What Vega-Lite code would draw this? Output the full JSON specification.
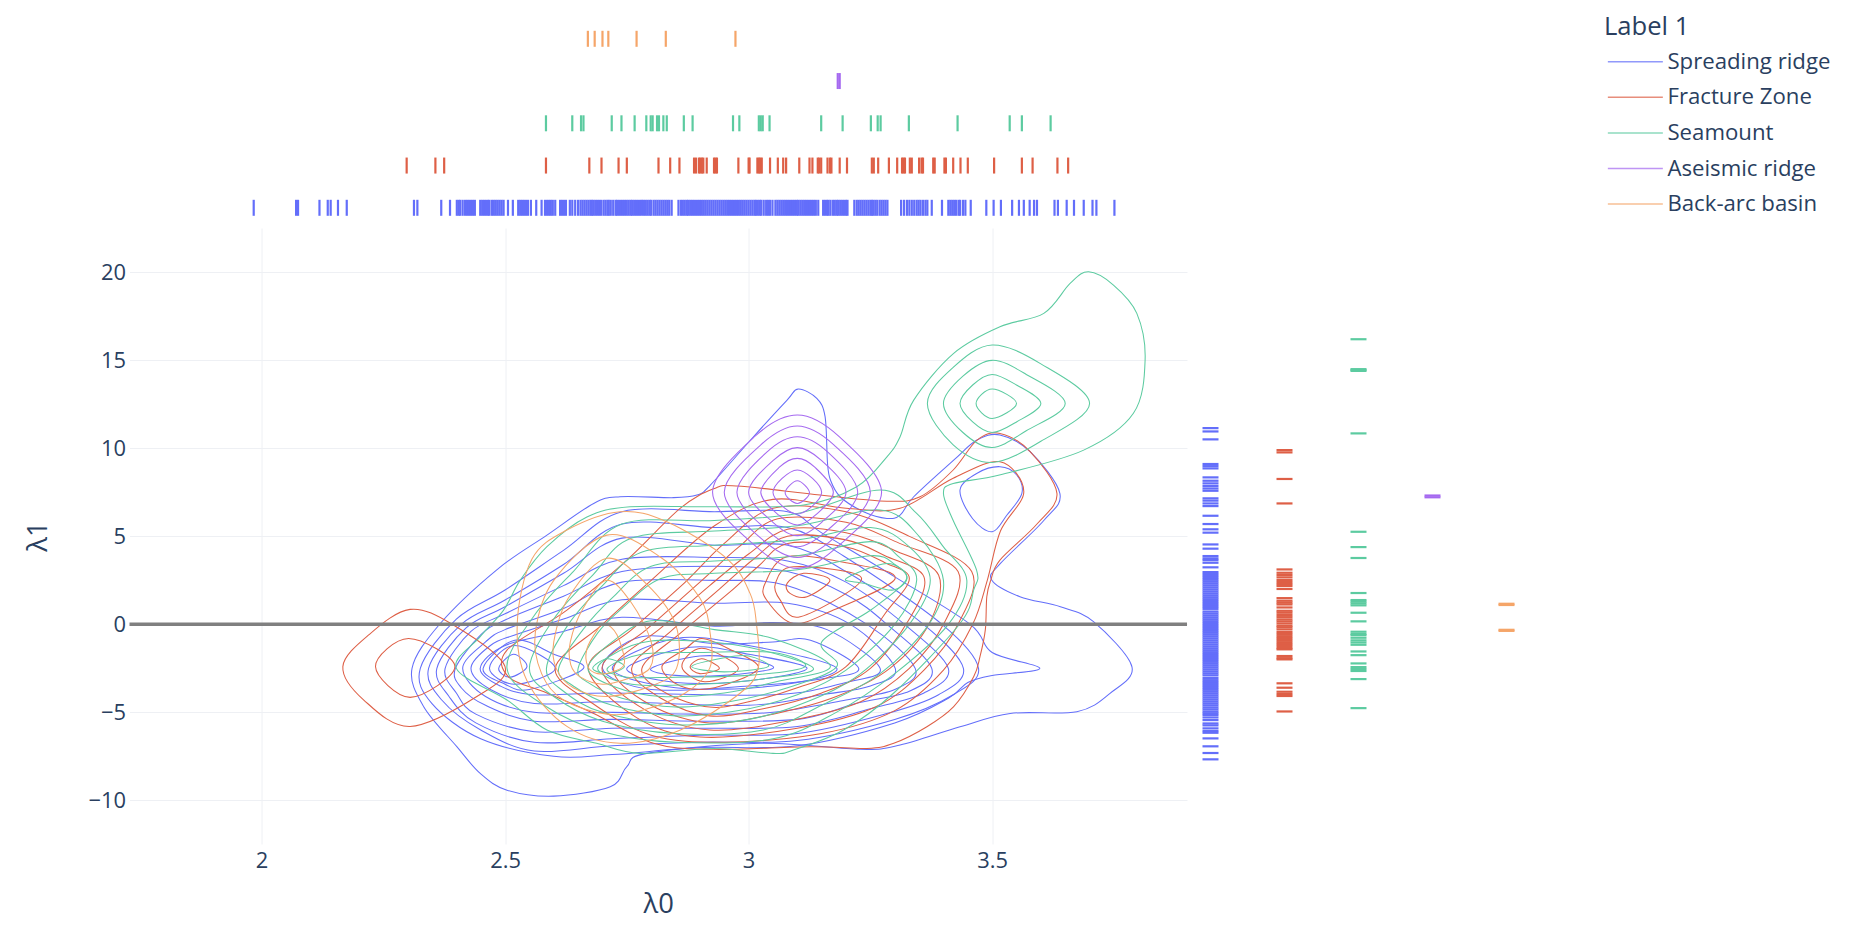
{"$schema":"https://vega.github.io/schema/vega-lite/v6.json","background":"white","padding":{"left":24.5,"top":0,"right":0,"bottom":10},"bounds":"flush","spacing":0,"resolve":{"scale":{"color":"independent"},"legend":{"color":"independent"}},
"config":{"view":{"stroke":null},"font":"Open Sans","axis":{"labelFont":"Open Sans","titleFont":"Open Sans","labelColor":"#2a3f5f","titleColor":"#2a3f5f","labelFontSize":21.9,"titleFontSize":27.4,"titleFontWeight":"normal","gridColor":"#EEF0F4","gridWidth":1,"domain":false,"ticks":false},"legend":{"labelFont":"Open Sans","titleFont":"Open Sans"}},
"datasets":{
"rx":[
{"t":"Back-arc basin","v":2.670},{"t":"Back-arc basin","v":2.684},{"t":"Back-arc basin","v":2.700},{"t":"Back-arc basin","v":2.712},{"t":"Back-arc basin","v":2.770},{"t":"Back-arc basin","v":2.830},{"t":"Back-arc basin","v":2.973},
{"t":"Aseismic ridge","v":3.183},{"t":"Aseismic ridge","v":3.187},
{"t":"Seamount","v":2.584},{"t":"Seamount","v":2.638},{"t":"Seamount","v":2.656},{"t":"Seamount","v":2.661},{"t":"Seamount","v":2.719},{"t":"Seamount","v":2.739},{"t":"Seamount","v":2.766},{"t":"Seamount","v":2.790},{"t":"Seamount","v":2.799},{"t":"Seamount","v":2.803},{"t":"Seamount","v":2.812},{"t":"Seamount","v":2.816},{"t":"Seamount","v":2.825},{"t":"Seamount","v":2.832},{"t":"Seamount","v":2.867},{"t":"Seamount","v":2.885},{"t":"Seamount","v":2.968},{"t":"Seamount","v":2.981},{"t":"Seamount","v":3.021},{"t":"Seamount","v":3.025},{"t":"Seamount","v":3.029},{"t":"Seamount","v":3.043},{"t":"Seamount","v":3.149},{"t":"Seamount","v":3.193},{"t":"Seamount","v":3.251},{"t":"Seamount","v":3.265},{"t":"Seamount","v":3.271},{"t":"Seamount","v":3.329},{"t":"Seamount","v":3.429},{"t":"Seamount","v":3.536},{"t":"Seamount","v":3.561},{"t":"Seamount","v":3.62},
{"t":"Fracture Zone","v":2.298},{"t":"Fracture Zone","v":2.357},{"t":"Fracture Zone","v":2.375},{"t":"Fracture Zone","v":2.584},{"t":"Fracture Zone","v":2.673},{"t":"Fracture Zone","v":2.698},{"t":"Fracture Zone","v":2.733},{"t":"Fracture Zone","v":2.750},{"t":"Fracture Zone","v":2.815},{"t":"Fracture Zone","v":2.839},{"t":"Fracture Zone","v":2.858},{"t":"Fracture Zone","v":2.888},{"t":"Fracture Zone","v":2.892},{"t":"Fracture Zone","v":2.898},{"t":"Fracture Zone","v":2.901},{"t":"Fracture Zone","v":2.904},{"t":"Fracture Zone","v":2.907},{"t":"Fracture Zone","v":2.914},{"t":"Fracture Zone","v":2.929},{"t":"Fracture Zone","v":2.932},{"t":"Fracture Zone","v":2.935},{"t":"Fracture Zone","v":2.979},{"t":"Fracture Zone","v":3.000},{"t":"Fracture Zone","v":3.002},{"t":"Fracture Zone","v":3.018},{"t":"Fracture Zone","v":3.021},{"t":"Fracture Zone","v":3.024},{"t":"Fracture Zone","v":3.027},{"t":"Fracture Zone","v":3.044},{"t":"Fracture Zone","v":3.060},{"t":"Fracture Zone","v":3.071},{"t":"Fracture Zone","v":3.077},{"t":"Fracture Zone","v":3.104},{"t":"Fracture Zone","v":3.125},{"t":"Fracture Zone","v":3.131},{"t":"Fracture Zone","v":3.142},{"t":"Fracture Zone","v":3.145},{"t":"Fracture Zone","v":3.149},{"t":"Fracture Zone","v":3.162},{"t":"Fracture Zone","v":3.167},{"t":"Fracture Zone","v":3.170},{"t":"Fracture Zone","v":3.187},{"t":"Fracture Zone","v":3.202},{"t":"Fracture Zone","v":3.253},{"t":"Fracture Zone","v":3.257},{"t":"Fracture Zone","v":3.266},{"t":"Fracture Zone","v":3.288},{"t":"Fracture Zone","v":3.305},{"t":"Fracture Zone","v":3.315},{"t":"Fracture Zone","v":3.318},{"t":"Fracture Zone","v":3.321},{"t":"Fracture Zone","v":3.331},{"t":"Fracture Zone","v":3.335},{"t":"Fracture Zone","v":3.350},{"t":"Fracture Zone","v":3.355},{"t":"Fracture Zone","v":3.358},{"t":"Fracture Zone","v":3.379},{"t":"Fracture Zone","v":3.382},{"t":"Fracture Zone","v":3.402},{"t":"Fracture Zone","v":3.405},{"t":"Fracture Zone","v":3.42},{"t":"Fracture Zone","v":3.435},{"t":"Fracture Zone","v":3.45},{"t":"Fracture Zone","v":3.504},{"t":"Fracture Zone","v":3.561},{"t":"Fracture Zone","v":3.583},{"t":"Fracture Zone","v":3.634},{"t":"Fracture Zone","v":3.656},
{"t":"Spreading ridge","v":1.984},{"t":"Spreading ridge","v":2.071},{"t":"Spreading ridge","v":2.075},{"t":"Spreading ridge","v":2.119},{"t":"Spreading ridge","v":2.136},{"t":"Spreading ridge","v":2.142},{"t":"Spreading ridge","v":2.157},{"t":"Spreading ridge","v":2.175},{"t":"Spreading ridge","v":2.313},{"t":"Spreading ridge","v":2.320},{"t":"Spreading ridge","v":2.369},{"t":"Spreading ridge","v":2.387},{"t":"Spreading ridge","v":2.401},{"t":"Spreading ridge","v":2.405},{"t":"Spreading ridge","v":2.408},{"t":"Spreading ridge","v":2.413},{"t":"Spreading ridge","v":2.418},{"t":"Spreading ridge","v":2.422},{"t":"Spreading ridge","v":2.426},{"t":"Spreading ridge","v":2.430},{"t":"Spreading ridge","v":2.434},{"t":"Spreading ridge","v":2.438},{"t":"Spreading ridge","v":2.449},{"t":"Spreading ridge","v":2.453},{"t":"Spreading ridge","v":2.457},{"t":"Spreading ridge","v":2.461},{"t":"Spreading ridge","v":2.465},{"t":"Spreading ridge","v":2.468},{"t":"Spreading ridge","v":2.473},{"t":"Spreading ridge","v":2.477},{"t":"Spreading ridge","v":2.481},{"t":"Spreading ridge","v":2.485},{"t":"Spreading ridge","v":2.489},{"t":"Spreading ridge","v":2.493},{"t":"Spreading ridge","v":2.497},{"t":"Spreading ridge","v":2.506},{"t":"Spreading ridge","v":2.516},{"t":"Spreading ridge","v":2.527},{"t":"Spreading ridge","v":2.531},{"t":"Spreading ridge","v":2.535},{"t":"Spreading ridge","v":2.539},{"t":"Spreading ridge","v":2.543},{"t":"Spreading ridge","v":2.547},{"t":"Spreading ridge","v":2.553},{"t":"Spreading ridge","v":2.564},{"t":"Spreading ridge","v":2.575},{"t":"Spreading ridge","v":2.582},{"t":"Spreading ridge","v":2.586},{"t":"Spreading ridge","v":2.590},{"t":"Spreading ridge","v":2.594},{"t":"Spreading ridge","v":2.598},{"t":"Spreading ridge","v":2.603},{"t":"Spreading ridge","v":2.613},{"t":"Spreading ridge","v":2.617},{"t":"Spreading ridge","v":2.621},{"t":"Spreading ridge","v":2.625},{"t":"Spreading ridge","v":2.633},{"t":"Spreading ridge","v":2.638},{"t":"Spreading ridge","v":2.644},{"t":"Spreading ridge","v":2.650},{"t":"Spreading ridge","v":2.655},{"t":"Spreading ridge","v":2.659},{"t":"Spreading ridge","v":2.663},{"t":"Spreading ridge","v":2.667},{"t":"Spreading ridge","v":2.671},{"t":"Spreading ridge","v":2.675},{"t":"Spreading ridge","v":2.678},{"t":"Spreading ridge","v":2.681},{"t":"Spreading ridge","v":2.685},{"t":"Spreading ridge","v":2.689},{"t":"Spreading ridge","v":2.693},{"t":"Spreading ridge","v":2.697},{"t":"Spreading ridge","v":2.702},{"t":"Spreading ridge","v":2.706},{"t":"Spreading ridge","v":2.710},{"t":"Spreading ridge","v":2.713},{"t":"Spreading ridge","v":2.717},{"t":"Spreading ridge","v":2.722},{"t":"Spreading ridge","v":2.727},{"t":"Spreading ridge","v":2.730},{"t":"Spreading ridge","v":2.734},{"t":"Spreading ridge","v":2.738},{"t":"Spreading ridge","v":2.742},{"t":"Spreading ridge","v":2.746},{"t":"Spreading ridge","v":2.750},{"t":"Spreading ridge","v":2.754},{"t":"Spreading ridge","v":2.758},{"t":"Spreading ridge","v":2.761},{"t":"Spreading ridge","v":2.765},{"t":"Spreading ridge","v":2.769},{"t":"Spreading ridge","v":2.773},{"t":"Spreading ridge","v":2.777},{"t":"Spreading ridge","v":2.781},{"t":"Spreading ridge","v":2.785},{"t":"Spreading ridge","v":2.789},{"t":"Spreading ridge","v":2.793},{"t":"Spreading ridge","v":2.797},{"t":"Spreading ridge","v":2.800},{"t":"Spreading ridge","v":2.805},{"t":"Spreading ridge","v":2.809},{"t":"Spreading ridge","v":2.813},{"t":"Spreading ridge","v":2.817},{"t":"Spreading ridge","v":2.821},{"t":"Spreading ridge","v":2.825},{"t":"Spreading ridge","v":2.829},{"t":"Spreading ridge","v":2.833},{"t":"Spreading ridge","v":2.837},{"t":"Spreading ridge","v":2.842},{"t":"Spreading ridge","v":2.856},{"t":"Spreading ridge","v":2.861},{"t":"Spreading ridge","v":2.865},{"t":"Spreading ridge","v":2.869},{"t":"Spreading ridge","v":2.873},{"t":"Spreading ridge","v":2.876},{"t":"Spreading ridge","v":2.880},{"t":"Spreading ridge","v":2.884},{"t":"Spreading ridge","v":2.888},{"t":"Spreading ridge","v":2.892},{"t":"Spreading ridge","v":2.896},{"t":"Spreading ridge","v":2.900},{"t":"Spreading ridge","v":2.904},{"t":"Spreading ridge","v":2.908},{"t":"Spreading ridge","v":2.912},{"t":"Spreading ridge","v":2.916},{"t":"Spreading ridge","v":2.920},{"t":"Spreading ridge","v":2.924},{"t":"Spreading ridge","v":2.928},{"t":"Spreading ridge","v":2.932},{"t":"Spreading ridge","v":2.936},{"t":"Spreading ridge","v":2.940},{"t":"Spreading ridge","v":2.944},{"t":"Spreading ridge","v":2.948},{"t":"Spreading ridge","v":2.952},{"t":"Spreading ridge","v":2.956},{"t":"Spreading ridge","v":2.960},{"t":"Spreading ridge","v":2.964},{"t":"Spreading ridge","v":2.968},{"t":"Spreading ridge","v":2.972},{"t":"Spreading ridge","v":2.976},{"t":"Spreading ridge","v":2.980},{"t":"Spreading ridge","v":2.984},{"t":"Spreading ridge","v":2.988},{"t":"Spreading ridge","v":2.992},{"t":"Spreading ridge","v":2.996},{"t":"Spreading ridge","v":3.000},{"t":"Spreading ridge","v":3.004},{"t":"Spreading ridge","v":3.008},{"t":"Spreading ridge","v":3.012},{"t":"Spreading ridge","v":3.015},{"t":"Spreading ridge","v":3.019},{"t":"Spreading ridge","v":3.023},{"t":"Spreading ridge","v":3.026},{"t":"Spreading ridge","v":3.031},{"t":"Spreading ridge","v":3.036},{"t":"Spreading ridge","v":3.040},{"t":"Spreading ridge","v":3.044},{"t":"Spreading ridge","v":3.049},{"t":"Spreading ridge","v":3.055},{"t":"Spreading ridge","v":3.059},{"t":"Spreading ridge","v":3.063},{"t":"Spreading ridge","v":3.067},{"t":"Spreading ridge","v":3.071},{"t":"Spreading ridge","v":3.075},{"t":"Spreading ridge","v":3.079},{"t":"Spreading ridge","v":3.083},{"t":"Spreading ridge","v":3.087},{"t":"Spreading ridge","v":3.091},{"t":"Spreading ridge","v":3.095},{"t":"Spreading ridge","v":3.099},{"t":"Spreading ridge","v":3.102},{"t":"Spreading ridge","v":3.106},{"t":"Spreading ridge","v":3.110},{"t":"Spreading ridge","v":3.114},{"t":"Spreading ridge","v":3.118},{"t":"Spreading ridge","v":3.122},{"t":"Spreading ridge","v":3.126},{"t":"Spreading ridge","v":3.130},{"t":"Spreading ridge","v":3.134},{"t":"Spreading ridge","v":3.138},{"t":"Spreading ridge","v":3.143},{"t":"Spreading ridge","v":3.153},{"t":"Spreading ridge","v":3.157},{"t":"Spreading ridge","v":3.161},{"t":"Spreading ridge","v":3.164},{"t":"Spreading ridge","v":3.168},{"t":"Spreading ridge","v":3.173},{"t":"Spreading ridge","v":3.177},{"t":"Spreading ridge","v":3.181},{"t":"Spreading ridge","v":3.184},{"t":"Spreading ridge","v":3.188},{"t":"Spreading ridge","v":3.192},{"t":"Spreading ridge","v":3.196},{"t":"Spreading ridge","v":3.200},{"t":"Spreading ridge","v":3.203},{"t":"Spreading ridge","v":3.217},{"t":"Spreading ridge","v":3.222},{"t":"Spreading ridge","v":3.226},{"t":"Spreading ridge","v":3.230},{"t":"Spreading ridge","v":3.234},{"t":"Spreading ridge","v":3.238},{"t":"Spreading ridge","v":3.242},{"t":"Spreading ridge","v":3.246},{"t":"Spreading ridge","v":3.250},{"t":"Spreading ridge","v":3.253},{"t":"Spreading ridge","v":3.256},{"t":"Spreading ridge","v":3.260},{"t":"Spreading ridge","v":3.264},{"t":"Spreading ridge","v":3.269},{"t":"Spreading ridge","v":3.273},{"t":"Spreading ridge","v":3.277},{"t":"Spreading ridge","v":3.281},{"t":"Spreading ridge","v":3.285},{"t":"Spreading ridge","v":3.313},{"t":"Spreading ridge","v":3.319},{"t":"Spreading ridge","v":3.325},{"t":"Spreading ridge","v":3.330},{"t":"Spreading ridge","v":3.335},{"t":"Spreading ridge","v":3.340},{"t":"Spreading ridge","v":3.345},{"t":"Spreading ridge","v":3.349},{"t":"Spreading ridge","v":3.353},{"t":"Spreading ridge","v":3.358},{"t":"Spreading ridge","v":3.363},{"t":"Spreading ridge","v":3.367},{"t":"Spreading ridge","v":3.376},{"t":"Spreading ridge","v":3.397},{"t":"Spreading ridge","v":3.410},{"t":"Spreading ridge","v":3.414},{"t":"Spreading ridge","v":3.418},{"t":"Spreading ridge","v":3.422},{"t":"Spreading ridge","v":3.426},{"t":"Spreading ridge","v":3.431},{"t":"Spreading ridge","v":3.434},{"t":"Spreading ridge","v":3.440},{"t":"Spreading ridge","v":3.445},{"t":"Spreading ridge","v":3.456},{"t":"Spreading ridge","v":3.488},{"t":"Spreading ridge","v":3.503},{"t":"Spreading ridge","v":3.518},{"t":"Spreading ridge","v":3.541},{"t":"Spreading ridge","v":3.555},{"t":"Spreading ridge","v":3.565},{"t":"Spreading ridge","v":3.577},{"t":"Spreading ridge","v":3.586},{"t":"Spreading ridge","v":3.592},{"t":"Spreading ridge","v":3.628},{"t":"Spreading ridge","v":3.635},{"t":"Spreading ridge","v":3.653},{"t":"Spreading ridge","v":3.668},{"t":"Spreading ridge","v":3.688},{"t":"Spreading ridge","v":3.706},{"t":"Spreading ridge","v":3.714},{"t":"Spreading ridge","v":3.751}
],
"ry":[
{"t":"Back-arc basin","v":1.17},{"t":"Back-arc basin","v":1.10},{"t":"Back-arc basin","v":-0.31},{"t":"Back-arc basin","v":-0.37},
{"t":"Aseismic ridge","v":7.22},{"t":"Aseismic ridge","v":7.32},
{"t":"Seamount","v":16.2},{"t":"Seamount","v":14.5},{"t":"Seamount","v":14.45},{"t":"Seamount","v":14.4},{"t":"Seamount","v":10.85},{"t":"Seamount","v":5.26},{"t":"Seamount","v":4.39},{"t":"Seamount","v":3.77},{"t":"Seamount","v":1.78},{"t":"Seamount","v":1.38},{"t":"Seamount","v":1.29},{"t":"Seamount","v":1.19},{"t":"Seamount","v":1.08},{"t":"Seamount","v":0.66},{"t":"Seamount","v":0.17},{"t":"Seamount","v":-0.42},{"t":"Seamount","v":-0.55},{"t":"Seamount","v":-0.61},{"t":"Seamount","v":-0.76},{"t":"Seamount","v":-0.91},{"t":"Seamount","v":-1.03},{"t":"Seamount","v":-1.16},{"t":"Seamount","v":-1.54},{"t":"Seamount","v":-1.75},{"t":"Seamount","v":-2.22},{"t":"Seamount","v":-2.43},{"t":"Seamount","v":-2.54},{"t":"Seamount","v":-2.65},{"t":"Seamount","v":-3.11},{"t":"Seamount","v":-4.76},
{"t":"Fracture Zone","v":9.90},{"t":"Fracture Zone","v":9.77},{"t":"Fracture Zone","v":8.26},{"t":"Fracture Zone","v":6.87},{"t":"Fracture Zone","v":3.12},{"t":"Fracture Zone","v":2.93},{"t":"Fracture Zone","v":2.80},{"t":"Fracture Zone","v":2.67},{"t":"Fracture Zone","v":2.52},{"t":"Fracture Zone","v":2.40},{"t":"Fracture Zone","v":2.29},{"t":"Fracture Zone","v":2.18},{"t":"Fracture Zone","v":2.01},{"t":"Fracture Zone","v":1.49},{"t":"Fracture Zone","v":1.34},{"t":"Fracture Zone","v":1.23},{"t":"Fracture Zone","v":1.13},{"t":"Fracture Zone","v":0.96},{"t":"Fracture Zone","v":0.77},{"t":"Fracture Zone","v":0.66},{"t":"Fracture Zone","v":0.53},{"t":"Fracture Zone","v":0.41},{"t":"Fracture Zone","v":0.28},{"t":"Fracture Zone","v":0.17},{"t":"Fracture Zone","v":0.05},{"t":"Fracture Zone","v":-0.08},{"t":"Fracture Zone","v":-0.17},{"t":"Fracture Zone","v":-0.29},{"t":"Fracture Zone","v":-0.44},{"t":"Fracture Zone","v":-0.55},{"t":"Fracture Zone","v":-0.67},{"t":"Fracture Zone","v":-0.78},{"t":"Fracture Zone","v":-0.89},{"t":"Fracture Zone","v":-1.01},{"t":"Fracture Zone","v":-1.12},{"t":"Fracture Zone","v":-1.23},{"t":"Fracture Zone","v":-1.35},{"t":"Fracture Zone","v":-1.42},{"t":"Fracture Zone","v":-1.80},{"t":"Fracture Zone","v":-1.92},{"t":"Fracture Zone","v":-1.99},{"t":"Fracture Zone","v":-3.35},{"t":"Fracture Zone","v":-3.60},{"t":"Fracture Zone","v":-3.83},{"t":"Fracture Zone","v":-3.96},{"t":"Fracture Zone","v":-4.07},{"t":"Fracture Zone","v":-4.95},
{"t":"Spreading ridge","v":11.15},{"t":"Spreading ridge","v":10.96},{"t":"Spreading ridge","v":10.51},{"t":"Spreading ridge","v":9.11},{"t":"Spreading ridge","v":8.99},{"t":"Spreading ridge","v":8.86},{"t":"Spreading ridge","v":8.35},{"t":"Spreading ridge","v":8.16},{"t":"Spreading ridge","v":8.01},{"t":"Spreading ridge","v":7.86},{"t":"Spreading ridge","v":7.72},{"t":"Spreading ridge","v":7.59},{"t":"Spreading ridge","v":7.16},{"t":"Spreading ridge","v":7.03},{"t":"Spreading ridge","v":6.87},{"t":"Spreading ridge","v":6.72},{"t":"Spreading ridge","v":6.17},{"t":"Spreading ridge","v":5.70},{"t":"Spreading ridge","v":5.40},{"t":"Spreading ridge","v":5.21},{"t":"Spreading ridge","v":4.54},{"t":"Spreading ridge","v":4.30},{"t":"Spreading ridge","v":3.88},{"t":"Spreading ridge","v":3.75},{"t":"Spreading ridge","v":3.65},{"t":"Spreading ridge","v":3.50},{"t":"Spreading ridge","v":3.24},{"t":"Spreading ridge","v":2.97},{"t":"Spreading ridge","v":2.86},{"t":"Spreading ridge","v":2.75},{"t":"Spreading ridge","v":2.64},{"t":"Spreading ridge","v":2.53},{"t":"Spreading ridge","v":2.42},{"t":"Spreading ridge","v":2.31},{"t":"Spreading ridge","v":2.20},{"t":"Spreading ridge","v":2.09},{"t":"Spreading ridge","v":1.98},{"t":"Spreading ridge","v":1.87},{"t":"Spreading ridge","v":1.76},{"t":"Spreading ridge","v":1.65},{"t":"Spreading ridge","v":1.54},{"t":"Spreading ridge","v":1.43},{"t":"Spreading ridge","v":1.32},{"t":"Spreading ridge","v":1.21},{"t":"Spreading ridge","v":1.10},{"t":"Spreading ridge","v":0.99},{"t":"Spreading ridge","v":0.88},{"t":"Spreading ridge","v":0.73},{"t":"Spreading ridge","v":0.62},{"t":"Spreading ridge","v":0.51},{"t":"Spreading ridge","v":0.40},{"t":"Spreading ridge","v":0.29},{"t":"Spreading ridge","v":0.18},{"t":"Spreading ridge","v":0.07},{"t":"Spreading ridge","v":-0.04},{"t":"Spreading ridge","v":-0.15},{"t":"Spreading ridge","v":-0.26},{"t":"Spreading ridge","v":-0.37},{"t":"Spreading ridge","v":-0.48},{"t":"Spreading ridge","v":-0.59},{"t":"Spreading ridge","v":-0.70},{"t":"Spreading ridge","v":-0.81},{"t":"Spreading ridge","v":-0.92},{"t":"Spreading ridge","v":-1.03},{"t":"Spreading ridge","v":-1.14},{"t":"Spreading ridge","v":-1.25},{"t":"Spreading ridge","v":-1.36},{"t":"Spreading ridge","v":-1.47},{"t":"Spreading ridge","v":-1.58},{"t":"Spreading ridge","v":-1.69},{"t":"Spreading ridge","v":-1.80},{"t":"Spreading ridge","v":-1.91},{"t":"Spreading ridge","v":-2.02},{"t":"Spreading ridge","v":-2.13},{"t":"Spreading ridge","v":-2.24},{"t":"Spreading ridge","v":-2.35},{"t":"Spreading ridge","v":-2.46},{"t":"Spreading ridge","v":-2.57},{"t":"Spreading ridge","v":-2.68},{"t":"Spreading ridge","v":-2.79},{"t":"Spreading ridge","v":-2.90},{"t":"Spreading ridge","v":-3.05},{"t":"Spreading ridge","v":-3.17},{"t":"Spreading ridge","v":-3.28},{"t":"Spreading ridge","v":-3.39},{"t":"Spreading ridge","v":-3.50},{"t":"Spreading ridge","v":-3.61},{"t":"Spreading ridge","v":-3.72},{"t":"Spreading ridge","v":-3.83},{"t":"Spreading ridge","v":-3.94},{"t":"Spreading ridge","v":-4.05},{"t":"Spreading ridge","v":-4.16},{"t":"Spreading ridge","v":-4.27},{"t":"Spreading ridge","v":-4.38},{"t":"Spreading ridge","v":-4.49},{"t":"Spreading ridge","v":-4.60},{"t":"Spreading ridge","v":-4.72},{"t":"Spreading ridge","v":-4.83},{"t":"Spreading ridge","v":-4.95},{"t":"Spreading ridge","v":-5.05},{"t":"Spreading ridge","v":-5.15},{"t":"Spreading ridge","v":-5.29},{"t":"Spreading ridge","v":-5.44},{"t":"Spreading ridge","v":-5.63},{"t":"Spreading ridge","v":-5.74},{"t":"Spreading ridge","v":-5.91},{"t":"Spreading ridge","v":-6.06},{"t":"Spreading ridge","v":-6.16},{"t":"Spreading ridge","v":-6.48},{"t":"Spreading ridge","v":-6.93},{"t":"Spreading ridge","v":-7.31},{"t":"Spreading ridge","v":-7.67}
],
"contours":[
{"t":"Spreading ridge","c":"B0","x":2.309,"y":-2.5},{"t":"Spreading ridge","c":"B0","x":2.367,"y":0.05},{"t":"Spreading ridge","c":"B0","x":2.483,"y":3.1},{"t":"Spreading ridge","c":"B0","x":2.586,"y":5.07},{"t":"Spreading ridge","c":"B0","x":2.682,"y":6.87},{"t":"Spreading ridge","c":"B0","x":2.736,"y":7.25},{"t":"Spreading ridge","c":"B0","x":2.846,"y":7.2},{"t":"Spreading ridge","c":"B0","x":2.894,"y":7.35},{"t":"Spreading ridge","c":"B0","x":2.921,"y":7.9},{"t":"Spreading ridge","c":"B0","x":3.01,"y":10.66},{"t":"Spreading ridge","c":"B0","x":3.079,"y":12.74},{"t":"Spreading ridge","c":"B0","x":3.102,"y":13.37},{"t":"Spreading ridge","c":"B0","x":3.14,"y":12.84},{"t":"Spreading ridge","c":"B0","x":3.157,"y":11.8},{"t":"Spreading ridge","c":"B0","x":3.162,"y":9.15},{"t":"Spreading ridge","c":"B0","x":3.168,"y":8.2},{"t":"Spreading ridge","c":"B0","x":3.188,"y":7.25},{"t":"Spreading ridge","c":"B0","x":3.236,"y":6.4},{"t":"Spreading ridge","c":"B0","x":3.284,"y":6.02},{"t":"Spreading ridge","c":"B0","x":3.311,"y":6.21},{"t":"Spreading ridge","c":"B0","x":3.339,"y":7.25},{"t":"Spreading ridge","c":"B0","x":3.421,"y":9.33},{"t":"Spreading ridge","c":"B0","x":3.469,"y":10.47},{"t":"Spreading ridge","c":"B0","x":3.516,"y":10.76},{"t":"Spreading ridge","c":"B0","x":3.578,"y":9.81},{"t":"Spreading ridge","c":"B0","x":3.639,"y":7.44},{"t":"Spreading ridge","c":"B0","x":3.606,"y":5.9},{"t":"Spreading ridge","c":"B0","x":3.517,"y":3.46},{"t":"Spreading ridge","c":"B0","x":3.499,"y":2.52},{"t":"Spreading ridge","c":"B0","x":3.557,"y":1.57},{"t":"Spreading ridge","c":"B0","x":3.64,"y":1.0},{"t":"Spreading ridge","c":"B0","x":3.708,"y":0.15},{"t":"Spreading ridge","c":"B0","x":3.787,"y":-2.41},{"t":"Spreading ridge","c":"B0","x":3.742,"y":-3.92},{"t":"Spreading ridge","c":"B0","x":3.674,"y":-4.96},{"t":"Spreading ridge","c":"B0","x":3.537,"y":-5.06},{"t":"Spreading ridge","c":"B0","x":3.434,"y":-5.82},{"t":"Spreading ridge","c":"B0","x":3.311,"y":-6.86},{"t":"Spreading ridge","c":"B0","x":3.229,"y":-7.1},{"t":"Spreading ridge","c":"B0","x":3.024,"y":-6.76},{"t":"Spreading ridge","c":"B0","x":2.791,"y":-7.33},{"t":"Spreading ridge","c":"B0","x":2.75,"y":-8.09},{"t":"Spreading ridge","c":"B0","x":2.716,"y":-9.23},{"t":"Spreading ridge","c":"B0","x":2.6,"y":-9.76},{"t":"Spreading ridge","c":"B0","x":2.504,"y":-9.42},{"t":"Spreading ridge","c":"B0","x":2.449,"y":-8.47},{"t":"Spreading ridge","c":"B0","x":2.401,"y":-6.95},{"t":"Spreading ridge","c":"B0","x":2.333,"y":-4.68},
{"t":"Spreading ridge","c":"BI","x":3.434,"y":7.63},{"t":"Spreading ridge","c":"BI","x":3.47,"y":8.6},{"t":"Spreading ridge","c":"BI","x":3.516,"y":8.96},{"t":"Spreading ridge","c":"BI","x":3.55,"y":8.5},{"t":"Spreading ridge","c":"BI","x":3.561,"y":7.44},{"t":"Spreading ridge","c":"BI","x":3.53,"y":6.2},{"t":"Spreading ridge","c":"BI","x":3.5,"y":5.26},{"t":"Spreading ridge","c":"BI","x":3.46,"y":6},
{"t":"Spreading ridge","c":"B1","x":2.326,"y":-2.5},{"t":"Spreading ridge","c":"B1","x":2.4,"y":0.3},{"t":"Spreading ridge","c":"B1","x":2.5,"y":1.95},{"t":"Spreading ridge","c":"B1","x":2.62,"y":4.2},{"t":"Spreading ridge","c":"B1","x":2.74,"y":6.4},{"t":"Spreading ridge","c":"B1","x":2.93,"y":6.4},{"t":"Spreading ridge","c":"B1","x":3.08,"y":6.4},{"t":"Spreading ridge","c":"B1","x":3.15,"y":5.2},{"t":"Spreading ridge","c":"B1","x":3.3,"y":2.7},{"t":"Spreading ridge","c":"B1","x":3.455,"y":0},{"t":"Spreading ridge","c":"B1","x":3.5,"y":-1.6},{"t":"Spreading ridge","c":"B1","x":3.598,"y":-2.5},{"t":"Spreading ridge","c":"B1","x":3.5,"y":-2.9},{"t":"Spreading ridge","c":"B1","x":3.45,"y":-3.3},{"t":"Spreading ridge","c":"B1","x":3.41,"y":-4.2},{"t":"Spreading ridge","c":"B1","x":3.3,"y":-5.6},{"t":"Spreading ridge","c":"B1","x":3.1,"y":-6.9},{"t":"Spreading ridge","c":"B1","x":2.9,"y":-7},{"t":"Spreading ridge","c":"B1","x":2.72,"y":-7.4},{"t":"Spreading ridge","c":"B1","x":2.6,"y":-7.5},{"t":"Spreading ridge","c":"B1","x":2.45,"y":-6.5},{"t":"Spreading ridge","c":"B1","x":2.35,"y":-4.5},
{"t":"Spreading ridge","c":"B2","x":2.343,"y":-2.5},{"t":"Spreading ridge","c":"B2","x":2.41,"y":0},{"t":"Spreading ridge","c":"B2","x":2.5,"y":1.38},{"t":"Spreading ridge","c":"B2","x":2.62,"y":3.4},{"t":"Spreading ridge","c":"B2","x":2.74,"y":5.7},{"t":"Spreading ridge","c":"B2","x":2.93,"y":5.5},{"t":"Spreading ridge","c":"B2","x":3.08,"y":5.5},{"t":"Spreading ridge","c":"B2","x":3.2,"y":3.8},{"t":"Spreading ridge","c":"B2","x":3.397,"y":0},{"t":"Spreading ridge","c":"B2","x":3.472,"y":-2.5},{"t":"Spreading ridge","c":"B2","x":3.42,"y":-4},{"t":"Spreading ridge","c":"B2","x":3.3,"y":-5.4},{"t":"Spreading ridge","c":"B2","x":3.1,"y":-6.6},{"t":"Spreading ridge","c":"B2","x":2.9,"y":-6.7},{"t":"Spreading ridge","c":"B2","x":2.72,"y":-6.9},{"t":"Spreading ridge","c":"B2","x":2.56,"y":-7.2},{"t":"Spreading ridge","c":"B2","x":2.45,"y":-6},{"t":"Spreading ridge","c":"B2","x":2.37,"y":-4.3},
{"t":"Spreading ridge","c":"B3","x":2.36,"y":-2.5},{"t":"Spreading ridge","c":"B3","x":2.42,"y":-0.2},{"t":"Spreading ridge","c":"B3","x":2.5,"y":1},{"t":"Spreading ridge","c":"B3","x":2.62,"y":2.9},{"t":"Spreading ridge","c":"B3","x":2.74,"y":4.9},{"t":"Spreading ridge","c":"B3","x":2.93,"y":4.5},{"t":"Spreading ridge","c":"B3","x":3.08,"y":4.5},{"t":"Spreading ridge","c":"B3","x":3.2,"y":3},{"t":"Spreading ridge","c":"B3","x":3.359,"y":0},{"t":"Spreading ridge","c":"B3","x":3.441,"y":-2.5},{"t":"Spreading ridge","c":"B3","x":3.39,"y":-4},{"t":"Spreading ridge","c":"B3","x":3.28,"y":-5.1},{"t":"Spreading ridge","c":"B3","x":3.1,"y":-6.2},{"t":"Spreading ridge","c":"B3","x":2.9,"y":-6.3},{"t":"Spreading ridge","c":"B3","x":2.72,"y":-6.5},{"t":"Spreading ridge","c":"B3","x":2.56,"y":-6.7},{"t":"Spreading ridge","c":"B3","x":2.44,"y":-5.6},{"t":"Spreading ridge","c":"B3","x":2.385,"y":-4.1},
{"t":"Spreading ridge","c":"B4","x":2.377,"y":-2.5},{"t":"Spreading ridge","c":"B4","x":2.43,"y":-0.4},{"t":"Spreading ridge","c":"B4","x":2.5,"y":0.6},{"t":"Spreading ridge","c":"B4","x":2.62,"y":2.2},{"t":"Spreading ridge","c":"B4","x":2.74,"y":3.7},{"t":"Spreading ridge","c":"B4","x":2.93,"y":3.8},{"t":"Spreading ridge","c":"B4","x":3.08,"y":3.6},{"t":"Spreading ridge","c":"B4","x":3.2,"y":2.4},{"t":"Spreading ridge","c":"B4","x":3.32,"y":0},{"t":"Spreading ridge","c":"B4","x":3.41,"y":-2.5},{"t":"Spreading ridge","c":"B4","x":3.36,"y":-3.9},{"t":"Spreading ridge","c":"B4","x":3.25,"y":-4.8},{"t":"Spreading ridge","c":"B4","x":3.1,"y":-5.8},{"t":"Spreading ridge","c":"B4","x":2.9,"y":-5.9},{"t":"Spreading ridge","c":"B4","x":2.72,"y":-5.9},{"t":"Spreading ridge","c":"B4","x":2.56,"y":-6.1},{"t":"Spreading ridge","c":"B4","x":2.44,"y":-5.1},{"t":"Spreading ridge","c":"B4","x":2.4,"y":-3.9},
{"t":"Spreading ridge","c":"B5","x":2.398,"y":-2.5},{"t":"Spreading ridge","c":"B5","x":2.45,"y":-0.6},{"t":"Spreading ridge","c":"B5","x":2.5,"y":0.25},{"t":"Spreading ridge","c":"B5","x":2.62,"y":1.6},{"t":"Spreading ridge","c":"B5","x":2.74,"y":3},{"t":"Spreading ridge","c":"B5","x":2.93,"y":3.3},{"t":"Spreading ridge","c":"B5","x":3.08,"y":3},{"t":"Spreading ridge","c":"B5","x":3.2,"y":1.7},{"t":"Spreading ridge","c":"B5","x":3.284,"y":0},{"t":"Spreading ridge","c":"B5","x":3.376,"y":-2.5},{"t":"Spreading ridge","c":"B5","x":3.33,"y":-3.8},{"t":"Spreading ridge","c":"B5","x":3.22,"y":-4.5},{"t":"Spreading ridge","c":"B5","x":3.1,"y":-5.4},{"t":"Spreading ridge","c":"B5","x":2.9,"y":-5.5},{"t":"Spreading ridge","c":"B5","x":2.72,"y":-5.4},{"t":"Spreading ridge","c":"B5","x":2.56,"y":-5.5},{"t":"Spreading ridge","c":"B5","x":2.46,"y":-4.6},{"t":"Spreading ridge","c":"B5","x":2.41,"y":-3.6},
{"t":"Spreading ridge","c":"B6","x":2.413,"y":-2.5},{"t":"Spreading ridge","c":"B6","x":2.46,"y":-1},{"t":"Spreading ridge","c":"B6","x":2.5,"y":-0.3},{"t":"Spreading ridge","c":"B6","x":2.62,"y":0.9},{"t":"Spreading ridge","c":"B6","x":2.74,"y":2.4},{"t":"Spreading ridge","c":"B6","x":2.93,"y":2.5},{"t":"Spreading ridge","c":"B6","x":3.08,"y":2.2},{"t":"Spreading ridge","c":"B6","x":3.243,"y":0},{"t":"Spreading ridge","c":"B6","x":3.342,"y":-2.5},{"t":"Spreading ridge","c":"B6","x":3.3,"y":-3.7},{"t":"Spreading ridge","c":"B6","x":3.2,"y":-4.3},{"t":"Spreading ridge","c":"B6","x":3.05,"y":-5},{"t":"Spreading ridge","c":"B6","x":2.9,"y":-5.1},{"t":"Spreading ridge","c":"B6","x":2.72,"y":-5},{"t":"Spreading ridge","c":"B6","x":2.56,"y":-5},{"t":"Spreading ridge","c":"B6","x":2.46,"y":-4.1},
{"t":"Spreading ridge","c":"B7","x":2.43,"y":-2.5},{"t":"Spreading ridge","c":"B7","x":2.47,"y":-1.2},{"t":"Spreading ridge","c":"B7","x":2.52,"y":-0.6},{"t":"Spreading ridge","c":"B7","x":2.62,"y":0.3},{"t":"Spreading ridge","c":"B7","x":2.74,"y":1.4},{"t":"Spreading ridge","c":"B7","x":2.93,"y":1.2},{"t":"Spreading ridge","c":"B7","x":3.08,"y":1.2},{"t":"Spreading ridge","c":"B7","x":3.209,"y":0},{"t":"Spreading ridge","c":"B7","x":3.301,"y":-2.5},{"t":"Spreading ridge","c":"B7","x":3.25,"y":-3.5},{"t":"Spreading ridge","c":"B7","x":3.15,"y":-4},{"t":"Spreading ridge","c":"B7","x":3,"y":-4.6},{"t":"Spreading ridge","c":"B7","x":2.72,"y":-4.4},{"t":"Spreading ridge","c":"B7","x":2.56,"y":-4.5},{"t":"Spreading ridge","c":"B7","x":2.47,"y":-3.7},
{"t":"Spreading ridge","c":"B8","x":2.449,"y":-2.5},{"t":"Spreading ridge","c":"B8","x":2.5,"y":-1.2},{"t":"Spreading ridge","c":"B8","x":2.62,"y":-0.4},{"t":"Spreading ridge","c":"B8","x":2.74,"y":0.4},{"t":"Spreading ridge","c":"B8","x":2.93,"y":-0.1},{"t":"Spreading ridge","c":"B8","x":3.05,"y":0.1},{"t":"Spreading ridge","c":"B8","x":3.161,"y":-0.3},{"t":"Spreading ridge","c":"B8","x":3.27,"y":-2.5},{"t":"Spreading ridge","c":"B8","x":3.2,"y":-3.3},{"t":"Spreading ridge","c":"B8","x":3.05,"y":-4},{"t":"Spreading ridge","c":"B8","x":2.72,"y":-3.9},{"t":"Spreading ridge","c":"B8","x":2.56,"y":-4},{"t":"Spreading ridge","c":"B8","x":2.49,"y":-3.5},
{"t":"Spreading ridge","c":"B9","x":2.7,"y":-2.5},{"t":"Spreading ridge","c":"B9","x":2.78,"y":-0.7},{"t":"Spreading ridge","c":"B9","x":2.93,"y":-1.1},{"t":"Spreading ridge","c":"B9","x":3.05,"y":-1},{"t":"Spreading ridge","c":"B9","x":3.127,"y":-0.9},{"t":"Spreading ridge","c":"B9","x":3.226,"y":-2.5},{"t":"Spreading ridge","c":"B9","x":3.15,"y":-3.1},{"t":"Spreading ridge","c":"B9","x":3,"y":-3.5},{"t":"Spreading ridge","c":"B9","x":2.8,"y":-3.7},
{"t":"Spreading ridge","c":"Bi1","x":2.487,"y":-2.5},{"t":"Spreading ridge","c":"Bi1","x":2.517,"y":-1.7},{"t":"Spreading ridge","c":"Bi1","x":2.545,"y":-2.4},{"t":"Spreading ridge","c":"Bi1","x":2.51,"y":-3},
{"t":"Spreading ridge","c":"Bi2","x":2.468,"y":-2.5},{"t":"Spreading ridge","c":"Bi2","x":2.52,"y":-1.2},{"t":"Spreading ridge","c":"Bi2","x":2.603,"y":-2.5},{"t":"Spreading ridge","c":"Bi2","x":2.52,"y":-3.4},
{"t":"Spreading ridge","c":"Bi3","x":2.455,"y":-2.5},{"t":"Spreading ridge","c":"Bi3","x":2.52,"y":-0.9},{"t":"Spreading ridge","c":"Bi3","x":2.6,"y":-1.7},{"t":"Spreading ridge","c":"Bi3","x":2.661,"y":-2.5},{"t":"Spreading ridge","c":"Bi3","x":2.55,"y":-3.7},{"t":"Spreading ridge","c":"Bi3","x":2.5,"y":-3.4},
{"t":"Spreading ridge","c":"Br1","x":2.72,"y":-2.5},{"t":"Spreading ridge","c":"Br1","x":2.85,"y":-0.8},{"t":"Spreading ridge","c":"Br1","x":3,"y":-1.2},{"t":"Spreading ridge","c":"Br1","x":3.181,"y":-2.5},{"t":"Spreading ridge","c":"Br1","x":3.05,"y":-3.5},{"t":"Spreading ridge","c":"Br1","x":2.85,"y":-3.6},
{"t":"Spreading ridge","c":"Br2","x":2.75,"y":-2.5},{"t":"Spreading ridge","c":"Br2","x":2.88,"y":-1.3},{"t":"Spreading ridge","c":"Br2","x":3,"y":-1.7},{"t":"Spreading ridge","c":"Br2","x":3.12,"y":-2.5},{"t":"Spreading ridge","c":"Br2","x":3,"y":-3.2},{"t":"Spreading ridge","c":"Br2","x":2.85,"y":-3.3},
{"t":"Spreading ridge","c":"Br3","x":2.8,"y":-2.5},{"t":"Spreading ridge","c":"Br3","x":2.9,"y":-1.8},{"t":"Spreading ridge","c":"Br3","x":3,"y":-2},{"t":"Spreading ridge","c":"Br3","x":3.05,"y":-2.5},{"t":"Spreading ridge","c":"Br3","x":2.95,"y":-2.9},{"t":"Spreading ridge","c":"Br3","x":2.85,"y":-2.9},
{"t":"Fracture Zone","c":"Ra","x":2.167,"y":-2.4},{"t":"Fracture Zone","c":"Ra","x":2.22,"y":-0.6},{"t":"Fracture Zone","c":"Ra","x":2.305,"y":0.85},{"t":"Fracture Zone","c":"Ra","x":2.394,"y":-0.04},{"t":"Fracture Zone","c":"Ra","x":2.5,"y":-2.4},{"t":"Fracture Zone","c":"Ra","x":2.442,"y":-4.1},{"t":"Fracture Zone","c":"Ra","x":2.305,"y":-5.8},{"t":"Fracture Zone","c":"Ra","x":2.21,"y":-4.3},
{"t":"Fracture Zone","c":"Rb","x":2.234,"y":-2.4},{"t":"Fracture Zone","c":"Rb","x":2.302,"y":-0.8},{"t":"Fracture Zone","c":"Rb","x":2.397,"y":-2.4},{"t":"Fracture Zone","c":"Rb","x":2.305,"y":-4.15},
{"t":"Fracture Zone","c":"R1","x":2.507,"y":-2.98},{"t":"Fracture Zone","c":"R1","x":2.504,"y":-1.46},{"t":"Fracture Zone","c":"R1","x":2.627,"y":0.81},{"t":"Fracture Zone","c":"R1","x":2.75,"y":3.65},{"t":"Fracture Zone","c":"R1","x":2.86,"y":6.6},{"t":"Fracture Zone","c":"R1","x":2.928,"y":7.7},{"t":"Fracture Zone","c":"R1","x":2.976,"y":7.86},{"t":"Fracture Zone","c":"R1","x":3.147,"y":7.35},{"t":"Fracture Zone","c":"R1","x":3.284,"y":7},{"t":"Fracture Zone","c":"R1","x":3.352,"y":7.25},{"t":"Fracture Zone","c":"R1","x":3.42,"y":8.77},{"t":"Fracture Zone","c":"R1","x":3.469,"y":10.47},{"t":"Fracture Zone","c":"R1","x":3.516,"y":10.85},{"t":"Fracture Zone","c":"R1","x":3.578,"y":9.81},{"t":"Fracture Zone","c":"R1","x":3.633,"y":7.44},{"t":"Fracture Zone","c":"R1","x":3.592,"y":5.7},{"t":"Fracture Zone","c":"R1","x":3.516,"y":3.65},{"t":"Fracture Zone","c":"R1","x":3.497,"y":2.5},{"t":"Fracture Zone","c":"R1","x":3.489,"y":1.57},{"t":"Fracture Zone","c":"R1","x":3.486,"y":-0.3},{"t":"Fracture Zone","c":"R1","x":3.475,"y":-1.84},{"t":"Fracture Zone","c":"R1","x":3.462,"y":-2.98},{"t":"Fracture Zone","c":"R1","x":3.421,"y":-4.68},{"t":"Fracture Zone","c":"R1","x":3.366,"y":-5.82},{"t":"Fracture Zone","c":"R1","x":3.298,"y":-6.76},{"t":"Fracture Zone","c":"R1","x":3.243,"y":-7.05},{"t":"Fracture Zone","c":"R1","x":3.127,"y":-6.95},{"t":"Fracture Zone","c":"R1","x":2.928,"y":-7.1},{"t":"Fracture Zone","c":"R1","x":2.805,"y":-6.76},{"t":"Fracture Zone","c":"R1","x":2.682,"y":-5.06},{"t":"Fracture Zone","c":"R1","x":2.586,"y":-3.9},
{"t":"Fracture Zone","c":"R2","x":2.603,"y":-2.5},{"t":"Fracture Zone","c":"R2","x":2.7,"y":0},{"t":"Fracture Zone","c":"R2","x":2.8,"y":2.5},{"t":"Fracture Zone","c":"R2","x":2.93,"y":5.6},{"t":"Fracture Zone","c":"R2","x":3.05,"y":7.1},{"t":"Fracture Zone","c":"R2","x":3.2,"y":6.6},{"t":"Fracture Zone","c":"R2","x":3.311,"y":6.59},{"t":"Fracture Zone","c":"R2","x":3.42,"y":8.3},{"t":"Fracture Zone","c":"R2","x":3.516,"y":9.24},{"t":"Fracture Zone","c":"R2","x":3.565,"y":7.54},{"t":"Fracture Zone","c":"R2","x":3.517,"y":5.3},{"t":"Fracture Zone","c":"R2","x":3.49,"y":2.5},{"t":"Fracture Zone","c":"R2","x":3.46,"y":0},{"t":"Fracture Zone","c":"R2","x":3.4,"y":-2.6},{"t":"Fracture Zone","c":"R2","x":3.3,"y":-4.9},{"t":"Fracture Zone","c":"R2","x":3.15,"y":-6.2},{"t":"Fracture Zone","c":"R2","x":2.95,"y":-6.7},{"t":"Fracture Zone","c":"R2","x":2.8,"y":-6.3},{"t":"Fracture Zone","c":"R2","x":2.68,"y":-4.5},
{"t":"Fracture Zone","c":"R3","x":2.671,"y":-2.5},{"t":"Fracture Zone","c":"R3","x":2.76,"y":-0.3},{"t":"Fracture Zone","c":"R3","x":2.87,"y":2.4},{"t":"Fracture Zone","c":"R3","x":2.95,"y":4.6},{"t":"Fracture Zone","c":"R3","x":3.05,"y":6.6},{"t":"Fracture Zone","c":"R3","x":3.2,"y":6.4},{"t":"Fracture Zone","c":"R3","x":3.33,"y":5},{"t":"Fracture Zone","c":"R3","x":3.458,"y":3},{"t":"Fracture Zone","c":"R3","x":3.43,"y":0},{"t":"Fracture Zone","c":"R3","x":3.36,"y":-2.6},{"t":"Fracture Zone","c":"R3","x":3.26,"y":-4.7},{"t":"Fracture Zone","c":"R3","x":3.1,"y":-5.9},{"t":"Fracture Zone","c":"R3","x":2.9,"y":-6.4},{"t":"Fracture Zone","c":"R3","x":2.77,"y":-5.3},
{"t":"Fracture Zone","c":"R4","x":2.699,"y":-2.5},{"t":"Fracture Zone","c":"R4","x":2.79,"y":-0.3},{"t":"Fracture Zone","c":"R4","x":2.9,"y":2.4},{"t":"Fracture Zone","c":"R4","x":2.98,"y":4.4},{"t":"Fracture Zone","c":"R4","x":3.06,"y":6},{"t":"Fracture Zone","c":"R4","x":3.2,"y":5.8},{"t":"Fracture Zone","c":"R4","x":3.31,"y":4.6},{"t":"Fracture Zone","c":"R4","x":3.43,"y":3},{"t":"Fracture Zone","c":"R4","x":3.4,"y":0},{"t":"Fracture Zone","c":"R4","x":3.33,"y":-2.5},{"t":"Fracture Zone","c":"R4","x":3.23,"y":-4.4},{"t":"Fracture Zone","c":"R4","x":3.08,"y":-5.5},{"t":"Fracture Zone","c":"R4","x":2.92,"y":-6},{"t":"Fracture Zone","c":"R4","x":2.79,"y":-4.9},
{"t":"Fracture Zone","c":"R5","x":2.723,"y":-2.5},{"t":"Fracture Zone","c":"R5","x":2.82,"y":-0.2},{"t":"Fracture Zone","c":"R5","x":2.92,"y":2.2},{"t":"Fracture Zone","c":"R5","x":3,"y":4},{"t":"Fracture Zone","c":"R5","x":3.08,"y":5.4},{"t":"Fracture Zone","c":"R5","x":3.2,"y":5.2},{"t":"Fracture Zone","c":"R5","x":3.3,"y":4.2},{"t":"Fracture Zone","c":"R5","x":3.39,"y":2.8},{"t":"Fracture Zone","c":"R5","x":3.37,"y":0},{"t":"Fracture Zone","c":"R5","x":3.29,"y":-2.5},{"t":"Fracture Zone","c":"R5","x":3.18,"y":-4.1},{"t":"Fracture Zone","c":"R5","x":3.05,"y":-5.1},{"t":"Fracture Zone","c":"R5","x":2.92,"y":-5.6},{"t":"Fracture Zone","c":"R5","x":2.8,"y":-4.6},
{"t":"Fracture Zone","c":"R6","x":2.76,"y":-2.5},{"t":"Fracture Zone","c":"R6","x":2.84,"y":-0.4},{"t":"Fracture Zone","c":"R6","x":2.94,"y":2},{"t":"Fracture Zone","c":"R6","x":3.01,"y":3.7},{"t":"Fracture Zone","c":"R6","x":3.08,"y":5},{"t":"Fracture Zone","c":"R6","x":3.2,"y":4.8},{"t":"Fracture Zone","c":"R6","x":3.28,"y":3.9},{"t":"Fracture Zone","c":"R6","x":3.36,"y":2.7},{"t":"Fracture Zone","c":"R6","x":3.33,"y":0.3},{"t":"Fracture Zone","c":"R6","x":3.25,"y":-2.5},{"t":"Fracture Zone","c":"R6","x":3.15,"y":-3.9},{"t":"Fracture Zone","c":"R6","x":3.03,"y":-4.8},{"t":"Fracture Zone","c":"R6","x":2.92,"y":-5.2},{"t":"Fracture Zone","c":"R6","x":2.82,"y":-4.2},
{"t":"Fracture Zone","c":"R7","x":2.781,"y":-2.5},{"t":"Fracture Zone","c":"R7","x":2.86,"y":-0.5},{"t":"Fracture Zone","c":"R7","x":2.96,"y":1.8},{"t":"Fracture Zone","c":"R7","x":3.02,"y":3.3},{"t":"Fracture Zone","c":"R7","x":3.08,"y":4.6},{"t":"Fracture Zone","c":"R7","x":3.2,"y":4.4},{"t":"Fracture Zone","c":"R7","x":3.28,"y":3.5},{"t":"Fracture Zone","c":"R7","x":3.33,"y":2.6},{"t":"Fracture Zone","c":"R7","x":3.28,"y":0.6},{"t":"Fracture Zone","c":"R7","x":3.2,"y":-2.4},{"t":"Fracture Zone","c":"R7","x":3.1,"y":-3.6},{"t":"Fracture Zone","c":"R7","x":3,"y":-4.4},{"t":"Fracture Zone","c":"R7","x":2.92,"y":-4.7},{"t":"Fracture Zone","c":"R7","x":2.83,"y":-3.9},
{"t":"Fracture Zone","c":"U1","x":3.034,"y":2.33},{"t":"Fracture Zone","c":"U1","x":3.079,"y":3.84},{"t":"Fracture Zone","c":"U1","x":3.2,"y":3.5},{"t":"Fracture Zone","c":"U1","x":3.301,"y":2.61},{"t":"Fracture Zone","c":"U1","x":3.174,"y":0.81},{"t":"Fracture Zone","c":"U1","x":3.092,"y":0.05},{"t":"Fracture Zone","c":"U1","x":3.037,"y":1.38},
{"t":"Fracture Zone","c":"U2","x":3.055,"y":2.33},{"t":"Fracture Zone","c":"U2","x":3.092,"y":3.27},{"t":"Fracture Zone","c":"U2","x":3.232,"y":2.61},{"t":"Fracture Zone","c":"U2","x":3.106,"y":0.43},{"t":"Fracture Zone","c":"U2","x":3.065,"y":1.38},
{"t":"Fracture Zone","c":"U3","x":3.079,"y":2.33},{"t":"Fracture Zone","c":"U3","x":3.113,"y":2.9},{"t":"Fracture Zone","c":"U3","x":3.167,"y":2.52},{"t":"Fracture Zone","c":"U3","x":3.12,"y":1.57},{"t":"Fracture Zone","c":"U3","x":3.085,"y":1.76},
{"t":"Fracture Zone","c":"L1","x":2.822,"y":-2.4},{"t":"Fracture Zone","c":"L1","x":2.87,"y":-1.4},{"t":"Fracture Zone","c":"L1","x":2.904,"y":-0.8},{"t":"Fracture Zone","c":"L1","x":2.96,"y":-1.4},{"t":"Fracture Zone","c":"L1","x":3.02,"y":-2.5},{"t":"Fracture Zone","c":"L1","x":2.93,"y":-3.6},{"t":"Fracture Zone","c":"L1","x":2.86,"y":-3.5},
{"t":"Fracture Zone","c":"L2","x":2.863,"y":-2.4},{"t":"Fracture Zone","c":"L2","x":2.904,"y":-1.36},{"t":"Fracture Zone","c":"L2","x":2.979,"y":-2.5},{"t":"Fracture Zone","c":"L2","x":2.91,"y":-3.26},
{"t":"Fracture Zone","c":"L3","x":2.88,"y":-2.4},{"t":"Fracture Zone","c":"L3","x":2.904,"y":-1.95},{"t":"Fracture Zone","c":"L3","x":2.94,"y":-2.5},{"t":"Fracture Zone","c":"L3","x":2.9,"y":-2.8},
{"t":"Seamount","c":"G0","x":3.516,"y":16.91},{"t":"Seamount","c":"G0","x":3.606,"y":17.67},{"t":"Seamount","c":"G0","x":3.66,"y":19.37},{"t":"Seamount","c":"G0","x":3.698,"y":20.03},{"t":"Seamount","c":"G0","x":3.749,"y":19.28},{"t":"Seamount","c":"G0","x":3.797,"y":17.67},{"t":"Seamount","c":"G0","x":3.814,"y":15.02},{"t":"Seamount","c":"G0","x":3.79,"y":11.99},{"t":"Seamount","c":"G0","x":3.688,"y":9.9},{"t":"Seamount","c":"G0","x":3.517,"y":8.5},{"t":"Seamount","c":"G0","x":3.42,"y":8},{"t":"Seamount","c":"G0","x":3.4,"y":7.44},{"t":"Seamount","c":"G0","x":3.42,"y":5.9},{"t":"Seamount","c":"G0","x":3.468,"y":3.08},{"t":"Seamount","c":"G0","x":3.462,"y":1.95},{"t":"Seamount","c":"G0","x":3.434,"y":0.05},{"t":"Seamount","c":"G0","x":3.298,"y":-3.9},{"t":"Seamount","c":"G0","x":3.195,"y":-6},{"t":"Seamount","c":"G0","x":3.092,"y":-7.14},{"t":"Seamount","c":"G0","x":3.05,"y":-7.33},{"t":"Seamount","c":"G0","x":2.928,"y":-7.05},{"t":"Seamount","c":"G0","x":2.777,"y":-7.33},{"t":"Seamount","c":"G0","x":2.688,"y":-6.76},{"t":"Seamount","c":"G0","x":2.586,"y":-6},{"t":"Seamount","c":"G0","x":2.504,"y":-4.3},{"t":"Seamount","c":"G0","x":2.4,"y":-2.5},{"t":"Seamount","c":"G0","x":2.449,"y":-0.7},{"t":"Seamount","c":"G0","x":2.497,"y":0.81},{"t":"Seamount","c":"G0","x":2.531,"y":2.5},{"t":"Seamount","c":"G0","x":2.586,"y":4.41},{"t":"Seamount","c":"G0","x":2.668,"y":6.1},{"t":"Seamount","c":"G0","x":2.757,"y":6.68},{"t":"Seamount","c":"G0","x":2.928,"y":6.68},{"t":"Seamount","c":"G0","x":3.113,"y":6.78},{"t":"Seamount","c":"G0","x":3.222,"y":7.82},{"t":"Seamount","c":"G0","x":3.284,"y":9.52},{"t":"Seamount","c":"G0","x":3.311,"y":10.66},{"t":"Seamount","c":"G0","x":3.339,"y":12.74},{"t":"Seamount","c":"G0","x":3.421,"y":15.4},
{"t":"Seamount","c":"G1","x":2.504,"y":-2.5},{"t":"Seamount","c":"G1","x":2.56,"y":0.5},{"t":"Seamount","c":"G1","x":2.64,"y":3},{"t":"Seamount","c":"G1","x":2.74,"y":5.7},{"t":"Seamount","c":"G1","x":2.93,"y":5.9},{"t":"Seamount","c":"G1","x":3.1,"y":6.3},{"t":"Seamount","c":"G1","x":3.27,"y":7.63},{"t":"Seamount","c":"G1","x":3.345,"y":6.3},{"t":"Seamount","c":"G1","x":3.4,"y":4.4},{"t":"Seamount","c":"G1","x":3.448,"y":2.5},{"t":"Seamount","c":"G1","x":3.41,"y":0},{"t":"Seamount","c":"G1","x":3.3,"y":-2.8},{"t":"Seamount","c":"G1","x":3.18,"y":-5},{"t":"Seamount","c":"G1","x":3.05,"y":-6.5},{"t":"Seamount","c":"G1","x":2.85,"y":-6.7},{"t":"Seamount","c":"G1","x":2.7,"y":-6.1},{"t":"Seamount","c":"G1","x":2.58,"y":-4.6},
{"t":"Seamount","c":"G2","x":2.55,"y":-2.5},{"t":"Seamount","c":"G2","x":2.6,"y":0.3},{"t":"Seamount","c":"G2","x":2.68,"y":2.8},{"t":"Seamount","c":"G2","x":2.76,"y":4.9},{"t":"Seamount","c":"G2","x":2.93,"y":5.3},{"t":"Seamount","c":"G2","x":3.1,"y":5.6},{"t":"Seamount","c":"G2","x":3.27,"y":6.5},{"t":"Seamount","c":"G2","x":3.35,"y":5},{"t":"Seamount","c":"G2","x":3.4,"y":2.5},{"t":"Seamount","c":"G2","x":3.37,"y":0},{"t":"Seamount","c":"G2","x":3.27,"y":-2.8},{"t":"Seamount","c":"G2","x":3.15,"y":-4.6},{"t":"Seamount","c":"G2","x":3.03,"y":-6},{"t":"Seamount","c":"G2","x":2.85,"y":-6.2},{"t":"Seamount","c":"G2","x":2.7,"y":-5.5},{"t":"Seamount","c":"G2","x":2.6,"y":-4.1},
{"t":"Seamount","c":"G3","x":2.585,"y":-2.5},{"t":"Seamount","c":"G3","x":2.63,"y":0},{"t":"Seamount","c":"G3","x":2.7,"y":2.2},{"t":"Seamount","c":"G3","x":2.78,"y":4.1},{"t":"Seamount","c":"G3","x":2.93,"y":4.5},{"t":"Seamount","c":"G3","x":3.1,"y":4.8},{"t":"Seamount","c":"G3","x":3.25,"y":5.5},{"t":"Seamount","c":"G3","x":3.33,"y":4.4},{"t":"Seamount","c":"G3","x":3.373,"y":2.5},{"t":"Seamount","c":"G3","x":3.33,"y":0},{"t":"Seamount","c":"G3","x":3.23,"y":-2.8},{"t":"Seamount","c":"G3","x":3.12,"y":-4.4},{"t":"Seamount","c":"G3","x":3,"y":-5.4},{"t":"Seamount","c":"G3","x":2.85,"y":-5.7},{"t":"Seamount","c":"G3","x":2.7,"y":-5},{"t":"Seamount","c":"G3","x":2.62,"y":-3.8},
{"t":"Seamount","c":"G4","x":2.61,"y":-2.5},{"t":"Seamount","c":"G4","x":2.66,"y":-0.3},{"t":"Seamount","c":"G4","x":2.72,"y":1.5},{"t":"Seamount","c":"G4","x":2.8,"y":3.3},{"t":"Seamount","c":"G4","x":2.93,"y":3.6},{"t":"Seamount","c":"G4","x":3.1,"y":3.9},{"t":"Seamount","c":"G4","x":3.25,"y":4.7},{"t":"Seamount","c":"G4","x":3.31,"y":3.8},{"t":"Seamount","c":"G4","x":3.345,"y":2.5},{"t":"Seamount","c":"G4","x":3.3,"y":0},{"t":"Seamount","c":"G4","x":3.2,"y":-2.6},{"t":"Seamount","c":"G4","x":3.1,"y":-4},{"t":"Seamount","c":"G4","x":2.98,"y":-4.9},{"t":"Seamount","c":"G4","x":2.85,"y":-5.2},{"t":"Seamount","c":"G4","x":2.72,"y":-4.6},{"t":"Seamount","c":"G4","x":2.64,"y":-3.5},
{"t":"Seamount","c":"G5","x":2.65,"y":-2.5},{"t":"Seamount","c":"G5","x":2.69,"y":-0.5},{"t":"Seamount","c":"G5","x":2.74,"y":0.9},{"t":"Seamount","c":"G5","x":2.82,"y":2.6},{"t":"Seamount","c":"G5","x":2.93,"y":2.9},{"t":"Seamount","c":"G5","x":3.1,"y":3.1},{"t":"Seamount","c":"G5","x":3.25,"y":3.9},{"t":"Seamount","c":"G5","x":3.3,"y":3.4},{"t":"Seamount","c":"G5","x":3.323,"y":2.5},{"t":"Seamount","c":"G5","x":3.25,"y":0.8},{"t":"Seamount","c":"G5","x":3.15,"y":-1},{"t":"Seamount","c":"G5","x":3.181,"y":-2.4},{"t":"Seamount","c":"G5","x":3.08,"y":-3.6},{"t":"Seamount","c":"G5","x":2.96,"y":-4.4},{"t":"Seamount","c":"G5","x":2.85,"y":-4.7},{"t":"Seamount","c":"G5","x":2.74,"y":-4.2},{"t":"Seamount","c":"G5","x":2.67,"y":-3.3},
{"t":"Seamount","c":"G6","x":2.67,"y":-2.5},{"t":"Seamount","c":"G6","x":2.72,"y":-1},{"t":"Seamount","c":"G6","x":2.8,"y":0.2},{"t":"Seamount","c":"G6","x":2.93,"y":-0.3},{"t":"Seamount","c":"G6","x":3.05,"y":-0.8},{"t":"Seamount","c":"G6","x":3.168,"y":-2.4},{"t":"Seamount","c":"G6","x":3.05,"y":-3.3},{"t":"Seamount","c":"G6","x":2.95,"y":-3.9},{"t":"Seamount","c":"G6","x":2.82,"y":-4.1},{"t":"Seamount","c":"G6","x":2.72,"y":-3.5},
{"t":"Seamount","c":"G7","x":2.69,"y":-2.5},{"t":"Seamount","c":"G7","x":2.76,"y":-1.2},{"t":"Seamount","c":"G7","x":2.85,"y":-0.9},{"t":"Seamount","c":"G7","x":3,"y":-1.3},{"t":"Seamount","c":"G7","x":3.133,"y":-2.5},{"t":"Seamount","c":"G7","x":3.03,"y":-3.1},{"t":"Seamount","c":"G7","x":2.9,"y":-3.4},{"t":"Seamount","c":"G7","x":2.76,"y":-3.4},
{"t":"Seamount","c":"G8","x":2.71,"y":-2.5},{"t":"Seamount","c":"G8","x":2.78,"y":-1.7},{"t":"Seamount","c":"G8","x":2.9,"y":-1.6},{"t":"Seamount","c":"G8","x":3.05,"y":-1.6},{"t":"Seamount","c":"G8","x":3.116,"y":-2.4},{"t":"Seamount","c":"G8","x":3,"y":-2.9},{"t":"Seamount","c":"G8","x":2.85,"y":-3},{"t":"Seamount","c":"G8","x":2.75,"y":-3},
{"t":"Seamount","c":"G9","x":2.68,"y":-2.5},{"t":"Seamount","c":"G9","x":2.71,"y":-1.95},{"t":"Seamount","c":"G9","x":2.745,"y":-2.4},{"t":"Seamount","c":"G9","x":2.71,"y":-2.8},
{"t":"Seamount","c":"G10","x":2.883,"y":-2.4},{"t":"Seamount","c":"G10","x":2.95,"y":-1.9},{"t":"Seamount","c":"G10","x":3,"y":-1.8},{"t":"Seamount","c":"G10","x":3.04,"y":-2.4},{"t":"Seamount","c":"G10","x":2.95,"y":-2.7},
{"t":"Seamount","c":"G11","x":3.2,"y":2.6},{"t":"Seamount","c":"G11","x":3.284,"y":3.46},{"t":"Seamount","c":"G11","x":3.325,"y":2.7},{"t":"Seamount","c":"G11","x":3.297,"y":1.95},{"t":"Seamount","c":"G11","x":3.236,"y":2.33},
{"t":"Seamount","c":"GU1","x":3.467,"y":12.55},{"t":"Seamount","c":"GU1","x":3.5,"y":13.37},{"t":"Seamount","c":"GU1","x":3.55,"y":12.55},{"t":"Seamount","c":"GU1","x":3.5,"y":11.7},
{"t":"Seamount","c":"GU2","x":3.434,"y":12.55},{"t":"Seamount","c":"GU2","x":3.46,"y":13.6},{"t":"Seamount","c":"GU2","x":3.5,"y":14.2},{"t":"Seamount","c":"GU2","x":3.55,"y":13.6},{"t":"Seamount","c":"GU2","x":3.6,"y":12.55},{"t":"Seamount","c":"GU2","x":3.55,"y":11.5},{"t":"Seamount","c":"GU2","x":3.5,"y":10.9},{"t":"Seamount","c":"GU2","x":3.46,"y":11.5},
{"t":"Seamount","c":"GU3","x":3.4,"y":12.55},{"t":"Seamount","c":"GU3","x":3.44,"y":14.1},{"t":"Seamount","c":"GU3","x":3.5,"y":15},{"t":"Seamount","c":"GU3","x":3.57,"y":14.2},{"t":"Seamount","c":"GU3","x":3.65,"y":12.55},{"t":"Seamount","c":"GU3","x":3.57,"y":11},{"t":"Seamount","c":"GU3","x":3.5,"y":10.05},{"t":"Seamount","c":"GU3","x":3.44,"y":10.9},
{"t":"Seamount","c":"GU4","x":3.367,"y":12.55},{"t":"Seamount","c":"GU4","x":3.42,"y":14.6},{"t":"Seamount","c":"GU4","x":3.5,"y":15.87},{"t":"Seamount","c":"GU4","x":3.6,"y":14.8},{"t":"Seamount","c":"GU4","x":3.7,"y":12.55},{"t":"Seamount","c":"GU4","x":3.6,"y":10.4},{"t":"Seamount","c":"GU4","x":3.5,"y":9.2},{"t":"Seamount","c":"GU4","x":3.42,"y":10.2},
{"t":"Aseismic ridge","c":"P1","x":3.075,"y":7.48},{"t":"Aseismic ridge","c":"P1","x":3.1,"y":8.16},{"t":"Aseismic ridge","c":"P1","x":3.125,"y":7.48},{"t":"Aseismic ridge","c":"P1","x":3.1,"y":6.87},
{"t":"Aseismic ridge","c":"P2","x":3.05,"y":7.5},{"t":"Aseismic ridge","c":"P2","x":3.1,"y":8.77},{"t":"Aseismic ridge","c":"P2","x":3.15,"y":7.5},{"t":"Aseismic ridge","c":"P2","x":3.1,"y":6.27},
{"t":"Aseismic ridge","c":"P3","x":3.025,"y":7.5},{"t":"Aseismic ridge","c":"P3","x":3.062,"y":8.9},{"t":"Aseismic ridge","c":"P3","x":3.1,"y":9.43},{"t":"Aseismic ridge","c":"P3","x":3.137,"y":8.9},{"t":"Aseismic ridge","c":"P3","x":3.174,"y":7.5},{"t":"Aseismic ridge","c":"P3","x":3.137,"y":6.2},{"t":"Aseismic ridge","c":"P3","x":3.1,"y":5.64},{"t":"Aseismic ridge","c":"P3","x":3.062,"y":6.2},
{"t":"Aseismic ridge","c":"P4","x":3,"y":7.5},{"t":"Aseismic ridge","c":"P4","x":3.05,"y":9.3},{"t":"Aseismic ridge","c":"P4","x":3.1,"y":10.04},{"t":"Aseismic ridge","c":"P4","x":3.15,"y":9.3},{"t":"Aseismic ridge","c":"P4","x":3.2,"y":7.5},{"t":"Aseismic ridge","c":"P4","x":3.15,"y":5.8},{"t":"Aseismic ridge","c":"P4","x":3.1,"y":5.04},{"t":"Aseismic ridge","c":"P4","x":3.05,"y":5.8},
{"t":"Aseismic ridge","c":"P5","x":2.976,"y":7.5},{"t":"Aseismic ridge","c":"P5","x":3.038,"y":9.8},{"t":"Aseismic ridge","c":"P5","x":3.1,"y":10.66},{"t":"Aseismic ridge","c":"P5","x":3.162,"y":9.8},{"t":"Aseismic ridge","c":"P5","x":3.224,"y":7.5},{"t":"Aseismic ridge","c":"P5","x":3.162,"y":5.35},{"t":"Aseismic ridge","c":"P5","x":3.1,"y":4.41},{"t":"Aseismic ridge","c":"P5","x":3.038,"y":5.35},
{"t":"Aseismic ridge","c":"P6","x":2.95,"y":7.5},{"t":"Aseismic ridge","c":"P6","x":3.025,"y":10.2},{"t":"Aseismic ridge","c":"P6","x":3.1,"y":11.27},{"t":"Aseismic ridge","c":"P6","x":3.175,"y":10.2},{"t":"Aseismic ridge","c":"P6","x":3.25,"y":7.5},{"t":"Aseismic ridge","c":"P6","x":3.175,"y":4.9},{"t":"Aseismic ridge","c":"P6","x":3.1,"y":3.8},{"t":"Aseismic ridge","c":"P6","x":3.025,"y":4.9},
{"t":"Aseismic ridge","c":"P7","x":2.926,"y":7.5},{"t":"Aseismic ridge","c":"P7","x":3.012,"y":10.66},{"t":"Aseismic ridge","c":"P7","x":3.1,"y":11.89},{"t":"Aseismic ridge","c":"P7","x":3.186,"y":10.66},{"t":"Aseismic ridge","c":"P7","x":3.273,"y":7.5},{"t":"Aseismic ridge","c":"P7","x":3.186,"y":4.5},{"t":"Aseismic ridge","c":"P7","x":3.1,"y":3.18},{"t":"Aseismic ridge","c":"P7","x":3.012,"y":4.5},
{"t":"Back-arc basin","c":"O1","x":2.525,"y":0.05},{"t":"Back-arc basin","c":"O1","x":2.555,"y":3.7},{"t":"Back-arc basin","c":"O1","x":2.627,"y":5.36},{"t":"Back-arc basin","c":"O1","x":2.736,"y":6.4},{"t":"Back-arc basin","c":"O1","x":2.832,"y":5.83},{"t":"Back-arc basin","c":"O1","x":2.955,"y":3.75},{"t":"Back-arc basin","c":"O1","x":3.003,"y":1.76},{"t":"Back-arc basin","c":"O1","x":3.016,"y":0.05},{"t":"Back-arc basin","c":"O1","x":3.02,"y":-2.45},{"t":"Back-arc basin","c":"O1","x":2.983,"y":-3.9},{"t":"Back-arc basin","c":"O1","x":2.86,"y":-6},{"t":"Back-arc basin","c":"O1","x":2.736,"y":-6.76},{"t":"Back-arc basin","c":"O1","x":2.627,"y":-5.8},{"t":"Back-arc basin","c":"O1","x":2.545,"y":-3.2},
{"t":"Back-arc basin","c":"O2","x":2.562,"y":-0.5},{"t":"Back-arc basin","c":"O2","x":2.6,"y":2.5},{"t":"Back-arc basin","c":"O2","x":2.709,"y":5.07},{"t":"Back-arc basin","c":"O2","x":2.82,"y":3.8},{"t":"Back-arc basin","c":"O2","x":2.9,"y":1.5},{"t":"Back-arc basin","c":"O2","x":2.921,"y":-0.5},{"t":"Back-arc basin","c":"O2","x":2.92,"y":-2.5},{"t":"Back-arc basin","c":"O2","x":2.87,"y":-3.9},{"t":"Back-arc basin","c":"O2","x":2.78,"y":-4.9},{"t":"Back-arc basin","c":"O2","x":2.709,"y":-5.1},{"t":"Back-arc basin","c":"O2","x":2.62,"y":-4.3},{"t":"Back-arc basin","c":"O2","x":2.575,"y":-2.8},
{"t":"Back-arc basin","c":"O3","x":2.6,"y":-1},{"t":"Back-arc basin","c":"O3","x":2.63,"y":1.5},{"t":"Back-arc basin","c":"O3","x":2.709,"y":3.75},{"t":"Back-arc basin","c":"O3","x":2.79,"y":2.3},{"t":"Back-arc basin","c":"O3","x":2.85,"y":0},{"t":"Back-arc basin","c":"O3","x":2.852,"y":-2.5},{"t":"Back-arc basin","c":"O3","x":2.8,"y":-3.5},{"t":"Back-arc basin","c":"O3","x":2.709,"y":-4.1},{"t":"Back-arc basin","c":"O3","x":2.64,"y":-3.6},{"t":"Back-arc basin","c":"O3","x":2.605,"y":-2.5},
{"t":"Back-arc basin","c":"O4","x":2.634,"y":-1},{"t":"Back-arc basin","c":"O4","x":2.66,"y":0.9},{"t":"Back-arc basin","c":"O4","x":2.709,"y":2.5},{"t":"Back-arc basin","c":"O4","x":2.76,"y":1.2},{"t":"Back-arc basin","c":"O4","x":2.8,"y":-1},{"t":"Back-arc basin","c":"O4","x":2.797,"y":-2.5},{"t":"Back-arc basin","c":"O4","x":2.75,"y":-3.1},{"t":"Back-arc basin","c":"O4","x":2.7,"y":-3.4},{"t":"Back-arc basin","c":"O4","x":2.655,"y":-3},{"t":"Back-arc basin","c":"O4","x":2.635,"y":-2.3},
{"t":"Back-arc basin","c":"O5","x":2.668,"y":-1.4},{"t":"Back-arc basin","c":"O5","x":2.69,"y":-0.3},{"t":"Back-arc basin","c":"O5","x":2.705,"y":0.05},{"t":"Back-arc basin","c":"O5","x":2.73,"y":-0.6},{"t":"Back-arc basin","c":"O5","x":2.745,"y":-2.2},{"t":"Back-arc basin","c":"O5","x":2.72,"y":-2.7},{"t":"Back-arc basin","c":"O5","x":2.69,"y":-2.8},{"t":"Back-arc basin","c":"O5","x":2.67,"y":-2.4}
]},
"vconcat":[
{"width":1057.5,"height":228,"data":{"name":"rx"},"mark":{"type":"tick","thickness":2.2,"size":16,"opacity":1},
"encoding":{"x":{"field":"v","type":"quantitative","scale":{"domain":[1.729,3.9],"nice":false,"zero":false},"axis":null},
"y":{"field":"t","type":"nominal","scale":{"type":"point","padding":0,"domain":["Back-arc basin","Aseismic ridge","Seamount","Fracture Zone","Spreading ridge"],"range":[38.8,207.8]},"axis":null},
"color":{"field":"t","type":"nominal","legend":null,"scale":{"domain":["Spreading ridge","Fracture Zone","Seamount","Aseismic ridge","Back-arc basin"],"range":["#636EFA","#DE5F46","#5CCBA0","#A569F0","#F5A569"]}}}},
{"hconcat":[
{"width":1057.5,"height":616,"layer":[
{"data":{"name":"contours"},"transform":[{"window":[{"op":"row_number","as":"i"}]}],"mark":{"type":"line","interpolate":"cardinal-closed","strokeWidth":1.05,"clip":true},
"encoding":{"x":{"field":"x","type":"quantitative","title":"λ0","scale":{"domain":[1.729,3.9],"nice":false,"zero":false},"axis":{"values":[2,2.5,3,3.5],"format":"~g","labelPadding":6,"titlePadding":20}},
"y":{"field":"y","type":"quantitative","title":"λ1","scale":{"domain":[-12.48,22.52],"nice":false,"zero":false},"axis":{"values":[-10,-5,0,5,10,15,20],"format":"~g","labelPadding":4,"titlePadding":35}},
"color":{"field":"t","type":"nominal","title":"Label 1","scale":{"domain":["Spreading ridge","Fracture Zone","Seamount","Aseismic ridge","Back-arc basin"],"range":["#636EFA","#DE5F46","#5CCBA0","#A569F0","#F5A569"]},
"legend":{"orient":"none","legendX":1474.5,"legendY":-213,"symbolType":"M-5.5,0H5.5","symbolSize":100,"symbolStrokeWidth":1.5,"symbolOpacity":0.7,"symbolOffset":20.25,"labelOffset":21,"labelFontSize":22.2,"labelColor":"#2a3f5f","titleFontSize":25.6,"titleColor":"#2a3f5f","titleFontWeight":"normal","titlePadding":10,"rowPadding":12.6,"labelLimit":300}},
"detail":{"field":"c"},"order":{"field":"i","type":"quantitative"}}},
{"data":{"values":[{"z":0}]},"mark":{"type":"rule","color":"#808080","strokeWidth":3.5},"encoding":{"y":{"field":"z","type":"quantitative"}}}
]},
{"width":364,"height":616,"data":{"name":"ry"},"mark":{"type":"tick","thickness":2.2,"size":16,"opacity":1},
"encoding":{"y":{"field":"v","type":"quantitative","scale":{"domain":[-12.48,22.52],"nice":false,"zero":false},"axis":null},
"x":{"field":"t","type":"nominal","scale":{"type":"point","padding":0,"domain":["Spreading ridge","Fracture Zone","Seamount","Aseismic ridge","Back-arc basin"],"range":[23,319]},"axis":null},
"color":{"field":"t","type":"nominal","legend":null,"scale":{"domain":["Spreading ridge","Fracture Zone","Seamount","Aseismic ridge","Back-arc basin"],"range":["#636EFA","#DE5F46","#5CCBA0","#A569F0","#F5A569"]}}}}
],"spacing":0,"bounds":"flush","resolve":{"scale":{"color":"independent"},"legend":{"color":"independent"}}}
]}
